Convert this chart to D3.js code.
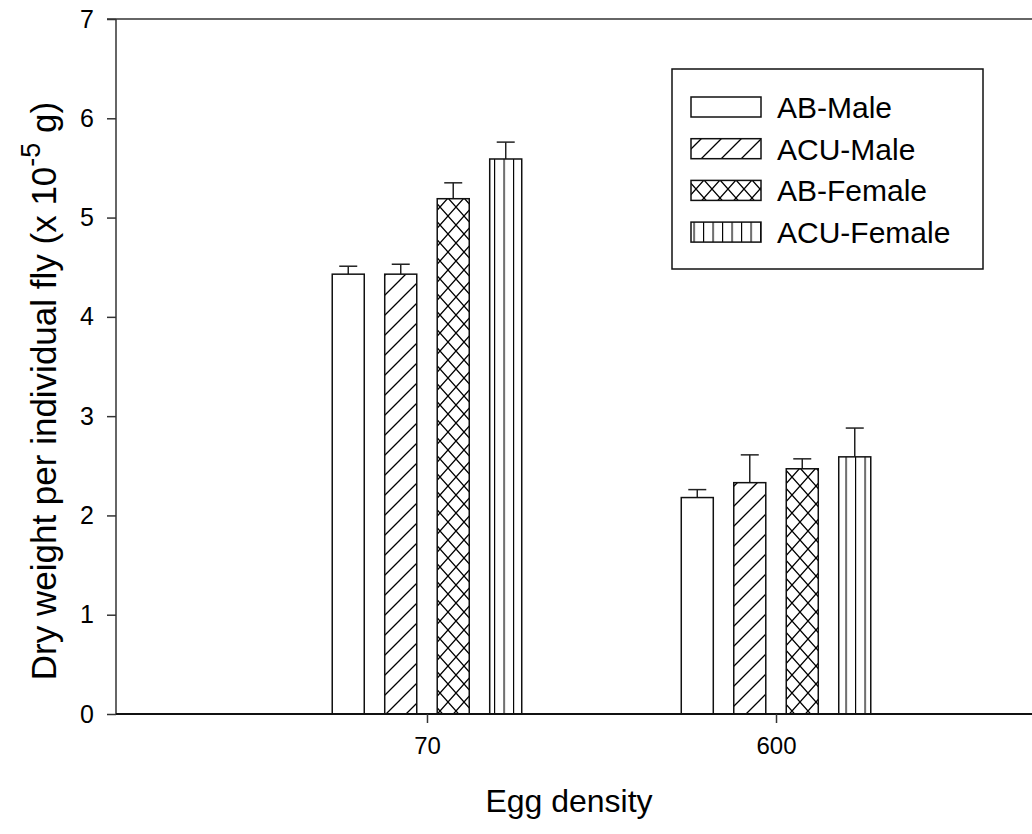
<!DOCTYPE html>
<html>
<head>
<meta charset="utf-8">
<script src="https://cdn.jsdelivr.net/npm/d3@7"></script>
<style>
  html, body { margin: 0; padding: 0; background: #fff; }
  svg { display: block; font-family: "Liberation Sans", Arial, sans-serif; }
</style>
</head>
<body>
<svg id="chart" width="1032" height="834"></svg>
<script>
const categories = ["70", "600"];
const series = ["AB-Male", "ACU-Male", "AB-Female", "ACU-Female"];
const values = {
  "AB-Male":    [4.43, 2.18],
  "ACU-Male":   [4.43, 2.33],
  "AB-Female":  [5.19, 2.47],
  "ACU-Female": [5.59, 2.59]
};
const errors = {
  "AB-Male":    [0.08, 0.08],
  "ACU-Male":   [0.10, 0.28],
  "AB-Female":  [0.16, 0.10],
  "ACU-Female": [0.17, 0.29]
};
const yTicks = [0, 1, 2, 3, 4, 5, 6, 7];
const patterns = ["none", "diag", "cross", "vert"];

const svg = d3.select("#chart");
const mLeft = 116, mTop = 19, mBottom = 714, mRight = 1087;

const y = d3.scaleLinear().domain([0, 7]).range([mBottom, mTop]);
const x = d3.scalePoint().domain(categories).range([mLeft, mRight]).padding(0.891);
const xb = d3.scaleBand().domain(series).range([-94.75, 94.75]).paddingInner(0.39).paddingOuter(0);

// patterns
const defs = svg.append("defs");
const pd = defs.append("pattern").attr("id", "diag").attr("patternUnits", "userSpaceOnUse")
  .attr("width", 20).attr("height", 20);
pd.append("path").attr("d", "M-5,5 L5,-5 M0,20 L20,0 M15,25 L25,15")
  .attr("stroke", "#000").attr("stroke-width", 1.3);
const pc = defs.append("pattern").attr("id", "cross").attr("patternUnits", "userSpaceOnUse")
  .attr("width", 16).attr("height", 18);
pc.append("path").attr("d", "M0,0 L16,18 M16,0 L0,18")
  .attr("stroke", "#000").attr("stroke-width", 1.3);
const pv = defs.append("pattern").attr("id", "vert").attr("patternUnits", "userSpaceOnUse")
  .attr("width", 9.5).attr("height", 10);
pv.append("path").attr("d", "M0.5,0 L0.5,10")
  .attr("stroke", "#000").attr("stroke-width", 1.3);

function fillOf(i) { return patterns[i] === "none" ? "#fff" : "url(#" + patterns[i] + ")"; }

// top frame line
svg.append("line").attr("x1", mLeft - 9).attr("x2", 1032).attr("y1", mTop).attr("y2", mTop)
  .attr("stroke", "#333").attr("stroke-width", 1.5);

// bars
series.forEach((s, i) => {
  const g = svg.append("g");
  categories.forEach((c, j) => {
    const bx = x(c) + xb(s);
    const v = values[s][j];
    const e = errors[s][j];
    const cx = bx + xb.bandwidth() / 2;
    g.append("line").attr("x1", cx).attr("x2", cx).attr("y1", y(v)).attr("y2", y(v + e))
      .attr("stroke", "#222").attr("stroke-width", 1.5);
    g.append("line").attr("x1", cx - 9).attr("x2", cx + 9).attr("y1", y(v + e)).attr("y2", y(v + e))
      .attr("stroke", "#222").attr("stroke-width", 1.5);
    g.append("rect").attr("x", bx).attr("y", y(v)).attr("width", xb.bandwidth())
      .attr("height", y(0) - y(v)).attr("fill", "#fff");
    g.append("rect").attr("x", bx).attr("y", y(v)).attr("width", xb.bandwidth())
      .attr("height", y(0) - y(v)).attr("fill", fillOf(i))
      .attr("stroke", "#111").attr("stroke-width", 1.5);
  });
});

// y axis
const yAxis = svg.append("g").attr("transform", `translate(${mLeft},0)`)
  .call(d3.axisLeft(y).tickValues(yTicks).tickSize(9).tickPadding(13).tickFormat(d3.format("d")));
yAxis.attr("font-size", 25).attr("font-family", "'Liberation Sans', Arial, sans-serif");
yAxis.select(".domain").attr("stroke", "#333").attr("stroke-width", 1.5).attr("d", `M0,${mTop}V${mBottom}`);
yAxis.selectAll(".tick line").attr("stroke", "#333").attr("stroke-width", 1.5);
yAxis.selectAll(".tick text").attr("fill", "#000");

// x axis
const xAxis = svg.append("g").attr("transform", `translate(0,${mBottom})`)
  .call(d3.axisBottom(x).tickSize(9).tickPadding(14));
xAxis.attr("font-size", 24).attr("font-family", "'Liberation Sans', Arial, sans-serif");
xAxis.select(".domain").attr("stroke", "#111").attr("stroke-width", 2).attr("d", `M${mLeft},0H${mRight}`);
xAxis.selectAll(".tick line").attr("stroke", "#333").attr("stroke-width", 1.5);
xAxis.selectAll(".tick text").attr("fill", "#000");

// axis titles
svg.append("text").attr("x", 569).attr("y", 812).attr("text-anchor", "middle")
  .attr("font-size", 32).attr("fill", "#000").text("Egg density");

const yt = svg.append("text").attr("transform", "translate(56,391) rotate(-90)")
  .attr("text-anchor", "middle").attr("font-size", 35).attr("fill", "#000");
yt.append("tspan").text("Dry weight per individual fly (x 10");
yt.append("tspan").attr("dy", -16).attr("font-size", 27).text("-5");
yt.append("tspan").attr("dy", 16).text(" g)");

// legend
const lg = svg.append("g");
lg.append("rect").attr("x", 672).attr("y", 69).attr("width", 311).attr("height", 200)
  .attr("fill", "#fff").attr("stroke", "#111").attr("stroke-width", 1.5);
series.forEach((s, i) => {
  const cy = 107 + i * 41.7;
  lg.append("rect").attr("x", 691).attr("y", cy - 10).attr("width", 70).attr("height", 20)
    .attr("fill", fillOf(i)).attr("stroke", "#111").attr("stroke-width", 1.5);
  lg.append("text").attr("x", 777).attr("y", cy).attr("dy", "0.36em")
    .attr("font-size", 30).attr("fill", "#000").text(s);
});
</script>
</body>
</html>
